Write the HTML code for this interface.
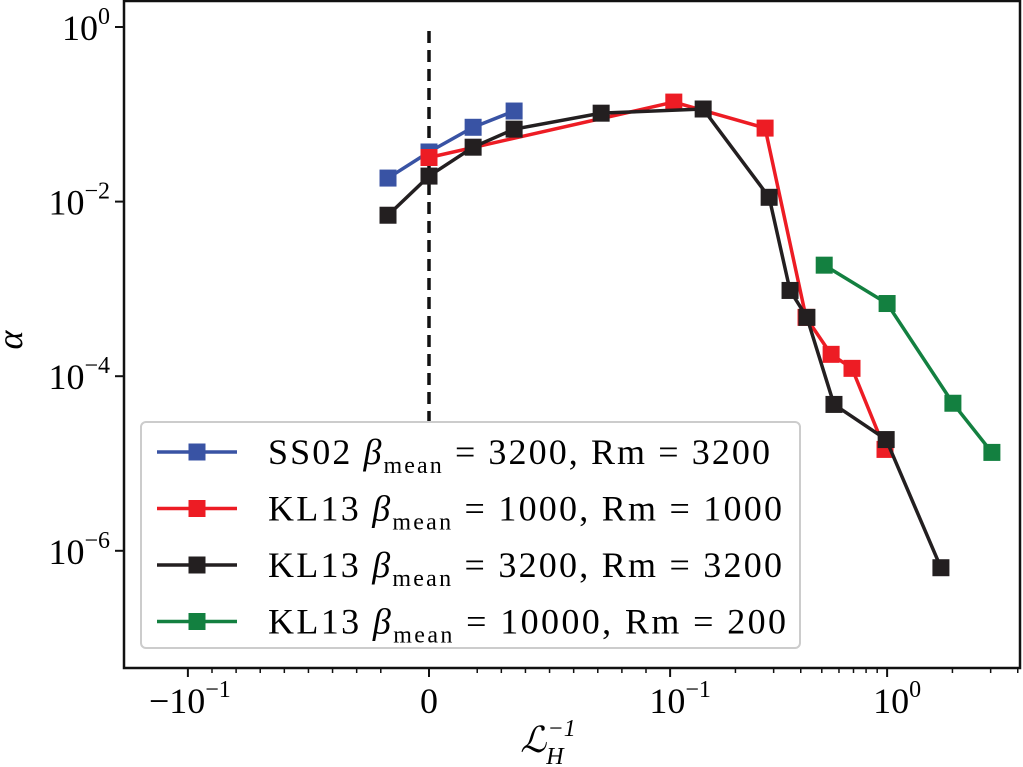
<!DOCTYPE html>
<html><head><meta charset="utf-8"><style>
html,body{margin:0;padding:0;background:#fff}
svg{display:block;font-family:"Liberation Serif",serif}
</style></head><body>
<svg id="chart" width="1023" height="767" viewBox="0 0 1023 767" xmlns="http://www.w3.org/2000/svg"></svg>
<script>
const seriesNames = ["SS02","KL13a","KL13b","KL13c"];
const blueX = [-0.017, 0, 0.0183, 0.0353];
const blueY = [0.0186, 0.037, 0.071, 0.109];
const redX = [0, 0.104, 0.274, 0.423, 0.552, 0.689, 0.978];
const redY = [0.032, 0.138, 0.0695, 4.72e-4, 1.78e-4, 1.23e-4, 1.45e-5];
const blackX = [-0.017, 0, 0.0183, 0.0353, 0.0714, 0.142, 0.286, 0.357, 0.427, 0.569, 0.99, 1.77];
const blackY = [6.98e-3, 0.0196, 0.042, 0.0676, 0.103, 0.115, 0.0112, 9.6e-4, 4.72e-4, 4.75e-5, 1.88e-5, 6.4e-7];
const greenX = [0.513, 1.0, 2.01, 3.04];
const greenY = [1.87e-3, 6.8e-4, 4.9e-5, 1.34e-5];
const xTickVals = [-0.1, 0, 0.1, 1];
const yTickExps = [0, -2, -4, -6];
const legendLabels = [["SS02","3200","3200"],["KL13","1000","1000"],["KL13","3200","3200"],["KL13","10000","200"]];
const legendWidths = [502, 514, 514, 518];

const NS="http://www.w3.org/2000/svg";
const svg=document.getElementById('chart');
const L=124,R=1020,T=1,B=668;
const X0=429, DEC=217, LT=0.1, LS=1/(1-0.1);
function xs(v){const a=Math.abs(v);let d;if(a<=LT)d=a/LT*LS;else d=LS+Math.log10(a/LT);return X0+Math.sign(v)*d*DEC;}
const YD=87.3, Y0=27;
function ys(v){return Y0-Math.log10(v)*YD;}
function mk(tag,attrs,parent){const e=document.createElementNS(NS,tag);for(const k in attrs)e.setAttribute(k,attrs[k]);(parent||svg).appendChild(e);return e;}

const clip=mk('clipPath',{id:'pc'});mk('rect',{x:L,y:T,width:R-L,height:B-T},clip);
const dl=mk('line',{x1:xs(0),x2:xs(0),y1:ys(1)+4,y2:430,stroke:'#111','stroke-width':3.5,'stroke-dasharray':'12,7'});



const cols=['#3953a4','#ed1c24','#231f20','#138040'];
const data=[[blueX,blueY],[redX,redY],[blackX,blackY],[greenX,greenY]];
data.forEach((s,i)=>{
  const g=mk('g',{'clip-path':'url(#pc)'});
  
  
  const pts=s[0].map((x,j)=>xs(x)+','+ys(s[1][j])).join(' ');
  mk('polyline',{points:pts,fill:'none',stroke:cols[i],'stroke-width':3.5},g);
  s[0].forEach((x,j)=>{
    const r=mk('rect',{x:xs(x)-8.5,y:ys(s[1][j])-8.5,width:17,height:17,fill:cols[i]},g);
    
    
  });
});
const fr=mk('rect',{x:L,y:T,width:R-L,height:B-T,fill:'none',stroke:'#111','stroke-width':2.5});


const minors=[];
for(let k=2;k<=9;k++){minors.push(k*0.01);minors.push(-k*0.01);minors.push(k*0.1);}
minors.push(-0.2,2,3,4);
minors.forEach(v=>{const p=xs(v);if(p>L&&p<R)mk('line',{x1:p,x2:p,y1:B,y2:B+5,stroke:'#111','stroke-width':1.5});});
const xLabels=['\u221210<tspan dy="-16" font-size="24">\u22121</tspan>','0','10<tspan dy="-16" font-size="24">\u22121</tspan>','10<tspan dy="-16" font-size="24">0</tspan>'];
xTickVals.forEach((v,i)=>{
  const p=xs(v);
  mk('line',{x1:p,x2:p,y1:B,y2:B+9,stroke:'#111','stroke-width':2});
  const t=mk('text',{x:i==1?p:p+(i==0?2:10),y:B+45,'font-size':36,'text-anchor':'middle'});
  t.innerHTML=xLabels[i];
  
  
});
yTickExps.forEach(e=>{
  const p=ys(Math.pow(10,e));
  mk('line',{x1:L-9,x2:L,y1:p,y2:p,stroke:'#111','stroke-width':2});
  const t=mk('text',{x:L-14,y:p+13,'font-size':36,'text-anchor':'end'});
  t.innerHTML='10<tspan dy="-16" font-size="24">'+(e==0?'0':'\u2212'+(-e))+'</tspan>';
  
  
});
const xl=mk('text',{x:548,y:752,'font-size':36,'font-style':'italic','text-anchor':'middle'});
xl.innerHTML='\u2112<tspan dy="12" font-size="24">H</tspan><tspan dy="-28" dx="-16" font-size="24">\u22121</tspan>';


const yl=mk('text',{x:22,y:340,'font-size':36,'font-style':'italic','text-anchor':'middle',transform:'rotate(-90 22 340)'});
yl.textContent='\u03b1';


const lg=mk('g',{});


mk('rect',{x:141,y:422,width:659,height:226,rx:5,fill:'#fff',stroke:'#ccc','stroke-width':2},lg);
legendLabels.forEach((lab,i)=>{
  const y=452+i*56.5;
  const e=mk('g',{},lg);
  
  
  mk('line',{x1:157,x2:237,y1:y,y2:y,stroke:cols[i],'stroke-width':3.5},e);
  mk('rect',{x:188.5,y:y-8.5,width:17,height:17,fill:cols[i]},e);
  const t=mk('text',{x:268,y:y+12,'font-size':36,textLength:legendWidths[i],lengthAdjust:'spacing'},e);
  t.innerHTML=lab[0]+' <tspan font-style="italic">\u03b2</tspan><tspan dy="9" font-size="24">mean</tspan><tspan dy="-9"> = '+lab[1]+', Rm = '+lab[2]+'</tspan>';
});
</script>
</body></html>
